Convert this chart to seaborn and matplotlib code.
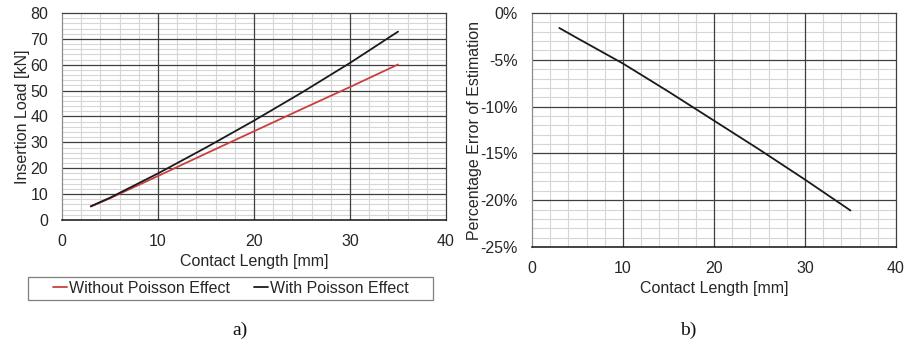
import matplotlib
matplotlib.use("Agg")
import matplotlib.pyplot as plt
from matplotlib.ticker import MultipleLocator, FuncFormatter
from matplotlib.lines import Line2D
from matplotlib.patches import Rectangle
import seaborn as sns
import pandas as pd

# Contact length [mm]
contact_length = [3, 5, 10, 15, 20, 25, 30, 35]
# Insertion load [kN]
load_without_poisson = [5.2, 8.4, 17.0, 25.7, 34.3, 42.9, 51.4, 60.1]
load_with_poisson = [5.3, 8.6, 18.0, 28.0, 38.4, 49.3, 60.7, 72.8]
# Percentage error of estimation [%]
error_pct = [-1.6, -2.7, -5.4, -8.4, -11.5, -14.6, -17.8, -21.1]

series_names = ["Without Poisson Effect", "With Poisson Effect"]
series_colors = ["#c8403f", "#1a1a1a"]

sns.set_theme(style="white")
plt.rcParams["font.family"] = ["Liberation Sans", "DejaVu Sans"]
plt.rcParams["axes.unicode_minus"] = False

load_df = pd.DataFrame({
    "x": contact_length * 2,
    "y": load_without_poisson + load_with_poisson,
    "series": [series_names[0]] * len(contact_length) + [series_names[1]] * len(contact_length),
})
err_df = pd.DataFrame({"x": contact_length, "y": error_pct})

W, H = 908, 349
fig = plt.figure(figsize=(W / 100, H / 100), dpi=100)
ax1 = fig.add_axes([62 / W, 1 - 220 / H, 384 / W, 207 / H])
ax2 = fig.add_axes([532 / W, 1 - 247 / H, 364 / W, 234 / H])

MAJOR = "#3f3f3f"
MINOR = "#d6d6d6"
TXT = "#262626"
FS = 11.5


def style_axes(ax, ymin, ymax, ymajor, yminor):
    ax.set_xlim(0, 40)
    ax.set_ylim(ymin, ymax)
    ax.xaxis.set_major_locator(MultipleLocator(10))
    ax.xaxis.set_minor_locator(MultipleLocator(2))
    ax.yaxis.set_major_locator(MultipleLocator(ymajor))
    ax.yaxis.set_minor_locator(MultipleLocator(yminor))
    # light minor grid underneath, solid dark major grid on top of it
    ax.grid(which="minor", color=MINOR, lw=0.8)
    ax.grid(which="major", visible=False)
    ax.set_axisbelow(True)
    for xv in ax.get_xticks():
        if 0 < xv < 40:
            ax.axvline(xv, color=MAJOR, lw=0.9, zorder=1)
    for yv in ax.get_yticks():
        if ymin < yv < ymax:
            ax.axhline(yv, color=MAJOR, lw=0.9, zorder=1)
    ax.tick_params(which="both", length=0, labelsize=FS, colors=TXT)
    ax.tick_params(axis="x", pad=10)
    ax.tick_params(axis="y", pad=10)
    for s in ["top", "right"]:
        ax.spines[s].set_color(MAJOR)
        ax.spines[s].set_linewidth(0.9)
    ax.spines["left"].set_color("#8c8c8c")
    ax.spines["left"].set_linewidth(0.9)
    ax.spines["bottom"].set_color("#111111")
    ax.spines["bottom"].set_linewidth(1.1)


sns.lineplot(data=load_df, x="x", y="y", hue="series", palette=series_colors,
             hue_order=series_names, ax=ax1, lw=1.3, legend=False, zorder=3)
style_axes(ax1, 0, 80, 10, 2)
ax1.set_xlabel("Contact Length [mm]", fontsize=FS, color=TXT, labelpad=4)
ax1.set_ylabel("Insertion Load [kN]", fontsize=FS, color=TXT, labelpad=0)

sns.lineplot(data=err_df, x="x", y="y", color="#1a1a1a", ax=ax2, lw=1.3, zorder=3)
style_axes(ax2, -25, 0, 5, 1)
ax2.yaxis.set_major_formatter(FuncFormatter(lambda v, p: f"{v:.0f}%"))
ax2.set_xlabel("Contact Length [mm]", fontsize=FS, color=TXT, labelpad=4)
ax2.set_ylabel("Percentage Error of Estimation", fontsize=FS, color=TXT, labelpad=-1)

# legend below the left panel, in its own box
handles = [Line2D([0], [0], color=c, lw=1.3) for c in series_colors]
fig.legend(handles, series_names, loc="center", ncol=2,
           bbox_to_anchor=(230.5 / W, 1 - 288.5 / H),
           fontsize=FS, handlelength=0.9, handletextpad=0.1,
           columnspacing=1.5, frameon=False, labelcolor=TXT)
fig.patches.append(Rectangle((28 / W, 1 - 300 / H), 405 / W, 23 / H,
                             transform=fig.transFigure, fill=False,
                             edgecolor="#7f7f7f", lw=0.9))

serif = ["Liberation Serif", "DejaVu Serif"]
fig.text(240 / W, 1 - 330 / H, "a)", ha="center", va="center",
         fontsize=14, family=serif, color="#111111")
fig.text(688 / W, 1 - 330 / H, "b)", ha="center", va="center",
         fontsize=14, family=serif, color="#111111")

fig.savefig("out.png", dpi=100)
